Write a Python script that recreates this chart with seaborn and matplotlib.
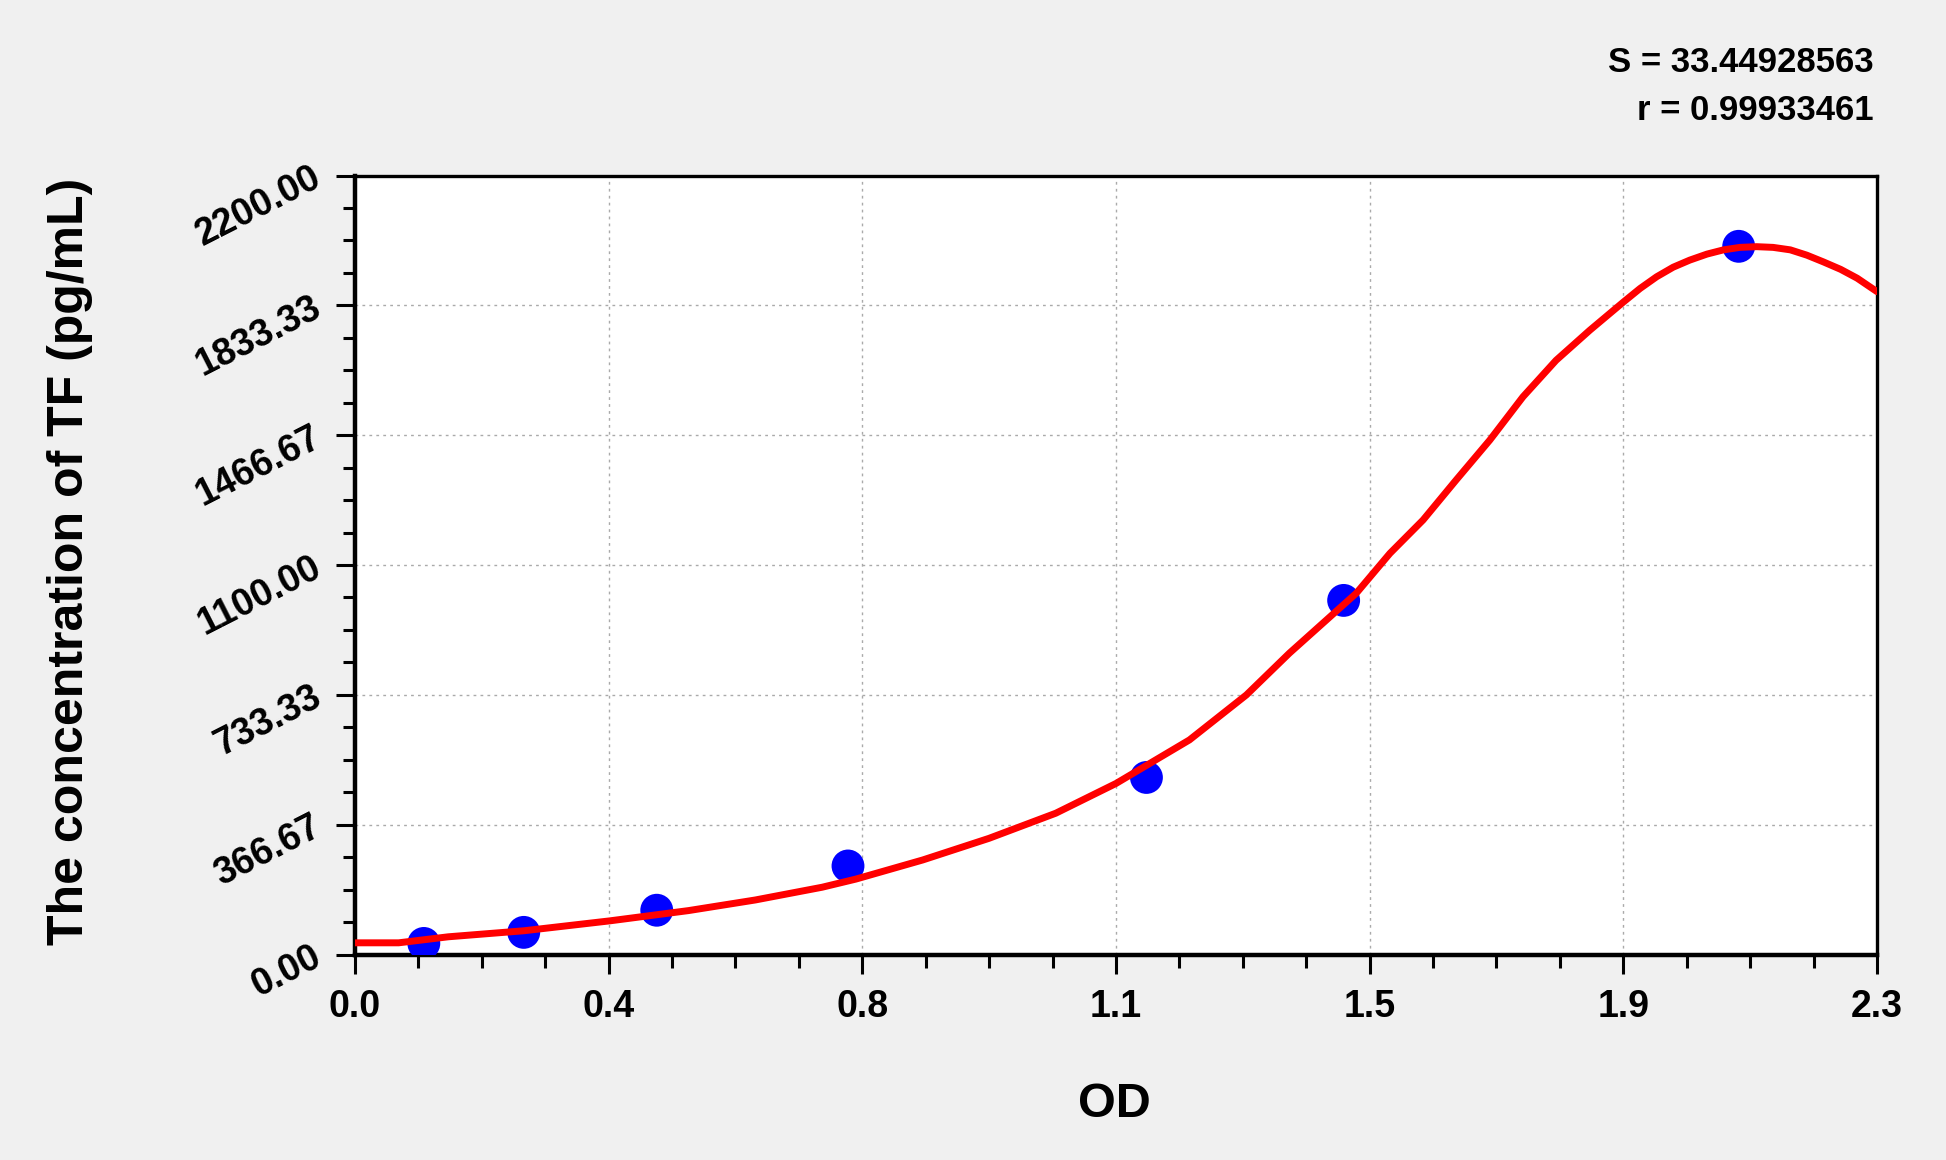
import numpy as np
import pandas as pd
import matplotlib
matplotlib.use("Agg")
import matplotlib.pyplot as plt
from matplotlib.ticker import AutoMinorLocator, FixedLocator, FixedFormatter
import seaborn as sns

# ---- data ----
std_od = [0.104, 0.255, 0.456, 0.745, 1.196, 1.494, 2.091]
std_conc = [31.25, 62.5, 125.0, 250.0, 500.0, 1000.0, 2000.0]

curve_od = [0.000, 0.066, 0.141, 0.255, 0.385, 0.504, 0.605, 0.706, 0.757,
            0.858, 0.958, 1.059, 1.150, 1.261, 1.347, 1.412, 1.513, 1.564,
            1.614, 1.664, 1.715, 1.765, 1.815, 1.866, 1.917, 1.942, 1.967,
            1.992, 2.017, 2.043, 2.068, 2.093, 2.118, 2.143, 2.169, 2.194,
            2.219, 2.245, 2.270, 2.300]
curve_conc = [33, 33, 50, 67, 95, 124, 154, 190, 213,
              267, 328, 399, 483, 606, 733, 851, 1020, 1133,
              1227, 1340, 1453, 1575, 1678, 1763, 1843, 1881, 1914,
              1941, 1961, 1978, 1990, 1997, 1999, 1997, 1990, 1975,
              1956, 1935, 1910, 1872]

x_ticks = [0.0, 0.38333, 0.76667, 1.15, 1.53333, 1.91667, 2.3]
x_tick_labels = ["0.0", "0.4", "0.8", "1.1", "1.5", "1.9", "2.3"]
y_ticks = [0.0, 366.67, 733.33, 1100.0, 1466.67, 1833.33, 2200.0]
y_tick_labels = ["0.00", "366.67", "733.33", "1100.00", "1466.67", "1833.33", "2200.00"]

stat_lines = ["S = 33.44928563", "r = 0.99933461"]
x_label = "OD"
y_label = "The concentration of TF (pg/mL)"

# ---- plotting ----
sns.set_theme(style="white")
plt.rcParams["font.family"] = ["Liberation Sans", "DejaVu Sans"]
plt.rcParams["text.color"] = "black"
plt.rcParams["axes.labelcolor"] = "black"
plt.rcParams["xtick.color"] = "black"
plt.rcParams["ytick.color"] = "black"

W, H = 1946, 1160
fig = plt.figure(figsize=(W / 100, H / 100), dpi=100, facecolor="#f0f0f0")
left, right, top, bottom = 355, 1877, 175.5, 954.5
ax = fig.add_axes([left / W, 1 - bottom / H, (right - left) / W, (bottom - top) / H])
ax.set_facecolor("white")

df_std = pd.DataFrame({"od": std_od, "conc": std_conc})
df_curve = pd.DataFrame({"od": curve_od, "conc": curve_conc})

sns.scatterplot(data=df_std, x="od", y="conc", ax=ax, s=560, color="#0000ff",
                edgecolor="none", zorder=3)
sns.lineplot(data=df_curve, x="od", y="conc", ax=ax, color="#ff0000", lw=5,
             sort=False, estimator=None, zorder=4)

ax.set_xlim(0, 2.3)
ax.set_ylim(0, 2200)

ax.xaxis.set_major_locator(FixedLocator(x_ticks))
ax.xaxis.set_major_formatter(FixedFormatter(x_tick_labels))
ax.yaxis.set_major_locator(FixedLocator(y_ticks))
ax.yaxis.set_major_formatter(FixedFormatter(y_tick_labels))
ax.xaxis.set_minor_locator(AutoMinorLocator(4))
ax.yaxis.set_minor_locator(AutoMinorLocator(4))

ax.grid(True, which="major", color="#aaaaaa", linestyle=(0, (2, 3)), linewidth=1.0)
ax.set_axisbelow(True)

for name, sp in ax.spines.items():
    sp.set_color("black")
    sp.set_linewidth(3.2 if name in ("left", "bottom") else 2.4)
    sp.set_visible(True)

ax.tick_params(axis="both", which="major", direction="out", length=14, width=2.2,
               color="black", labelsize=27, bottom=True, left=True, top=False, right=False)
ax.tick_params(axis="both", which="minor", direction="out", length=9, width=2.2,
               color="black", bottom=True, left=True, top=False, right=False)
ax.tick_params(axis="x", which="major", pad=11)
ax.tick_params(axis="y", which="major", pad=12)

for lab in ax.get_xticklabels():
    lab.set_fontweight("bold")
for lab in ax.get_yticklabels():
    lab.set_fontweight("bold")
    lab.set_rotation(27)
    lab.set_rotation_mode("anchor")
    lab.set_ha("right")
    lab.set_va("center")

ax.set_xlabel(x_label, fontsize=35, fontweight="bold", va="center")
ax.xaxis.set_label_coords(0.4987, -0.193)
ax.set_ylabel(y_label, fontsize=36, fontweight="bold", va="center")
ax.yaxis.set_label_coords(-0.1873, 0.505)

fig.text(1874 / W, 1 - 63 / H, stat_lines[0], ha="right", va="center",
         fontsize=25, fontweight="bold")
fig.text(1874 / W, 1 - 111 / H, stat_lines[1], ha="right", va="center",
         fontsize=25, fontweight="bold")

fig.savefig("out.png", dpi=100, facecolor=fig.get_facecolor())
